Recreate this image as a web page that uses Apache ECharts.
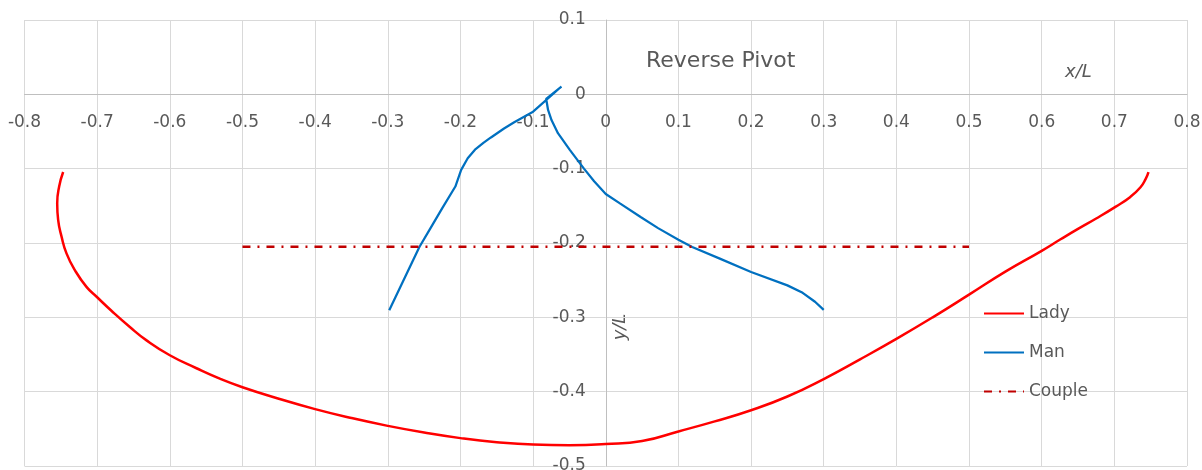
<!DOCTYPE html>
<html>
<head>
<meta charset="utf-8">
<title>Reverse Pivot</title>
<script src="https://cdn.jsdelivr.net/npm/echarts@6/dist/echarts.min.js"></script>
<style>
  html, body { margin: 0; padding: 0; background: #fff; }
  #chart { width: 1202px; height: 470px; }
</style>
</head>
<body>
<div id="chart"></div>
<script>
// Path of the lady (x/L, y/L)
const ladyPath = [
  [-0.7468, -0.1045], [-0.7523, -0.1239], [-0.755, -0.1464], [-0.7537, -0.169],
  [-0.749, -0.1914], [-0.7422, -0.214], [-0.7307, -0.2365], [-0.7147, -0.259],
  [-0.700, -0.273], [-0.680, -0.2915], [-0.655, -0.313], [-0.632, -0.331],
  [-0.600, -0.351], [-0.5633, -0.3685], [-0.5312, -0.3825], [-0.500, -0.394],
  [-0.450, -0.4095], [-0.400, -0.4235], [-0.350, -0.4355], [-0.300, -0.446],
  [-0.250, -0.455], [-0.200, -0.4625], [-0.150, -0.468], [-0.100, -0.4712],
  [-0.050, -0.472], [0.000, -0.4705], [0.050, -0.4665], [0.100, -0.4535],
  [0.150, -0.440], [0.200, -0.425], [0.250, -0.4065], [0.300, -0.383],
  [0.350, -0.3565], [0.400, -0.329], [0.450, -0.300], [0.500, -0.2695],
  [0.550, -0.2385], [0.600, -0.2105], [0.626, -0.195], [0.650, -0.181],
  [0.675, -0.167], [0.702, -0.151], [0.722, -0.138], [0.736, -0.125],
  [0.743, -0.114], [0.747, -0.1045]
];

// Path of the man
const manPath = [
  [0.300, -0.290], [0.288, -0.279], [0.271, -0.267], [0.250, -0.257],
  [0.200, -0.239], [0.157, -0.221], [0.119, -0.2054], [0.100, -0.1955],
  [0.072, -0.180], [0.048, -0.165], [0.020, -0.147], [0.000, -0.134],
  [-0.016, -0.117], [-0.030, -0.100], [-0.0495, -0.0747], [-0.0658, -0.0523],
  [-0.0745, -0.035], [-0.0794, -0.021], [-0.082, -0.006], [-0.061, 0.0105],
  [-0.100, -0.0233], [-0.126, -0.0375], [-0.140, -0.046], [-0.158, -0.058],
  [-0.168, -0.065], [-0.180, -0.0745], [-0.190, -0.086], [-0.199, -0.1016],
  [-0.207, -0.124], [-0.225, -0.153], [-0.243, -0.183], [-0.2565, -0.2054],
  [-0.298, -0.2906]
];

// Path of the couple's centre
const couplePath = [[-0.5, -0.205], [0.5, -0.205]];

const seriesNames = ['Lady', 'Man', 'Couple'];
const xRange = [-0.8, 0.8];
const yRange = [-0.5, 0.1];
const tickStep = 0.1;

const labelColor = '#595959';
const font = 'DejaVu Sans';

// plot box in pixels, axes cross at the origin
const plot = { left: 24.5, right: 15, top: 20, bottom: 4, width: 1202 - 24.5 - 15, height: 470 - 20 - 4 };
const zeroY = plot.top + plot.height * (yRange[1] / (yRange[1] - yRange[0]));
const zeroX = plot.left + plot.width * (-xRange[0] / (xRange[1] - xRange[0]));

const chart = echarts.init(document.getElementById('chart'));

chart.setOption({
  animation: false,
  title: {
    text: 'Reverse Pivot',
    left: 646,
    top: 50,
    padding: 0,
    textStyle: { fontFamily: font, fontSize: 22, fontWeight: 'normal', color: labelColor }
  },
  legend: {
    data: seriesNames,
    orient: 'vertical',
    left: 983,
    top: 305,
    padding: 0,
    itemWidth: 40,
    itemHeight: 14,
    itemGap: 22,
    itemStyle: { opacity: 0 },
    textStyle: { fontFamily: font, fontSize: 17, color: labelColor }
  },
  grid: {
    left: plot.left,
    right: plot.right,
    top: plot.top,
    bottom: plot.bottom,
    containLabel: false,
    outerBoundsMode: 'none'
  },
  xAxis: {
    type: 'value',
    position: 'top',
    offset: -(zeroY - plot.top),
    min: xRange[0],
    max: xRange[1],
    interval: tickStep,
    axisLine: { onZero: false, lineStyle: { color: '#bfbfbf', width: 1 } },
    axisTick: { show: false },
    axisLabel: { inside: true, margin: 20, color: labelColor, fontFamily: font, fontSize: 17 },
    splitLine: { lineStyle: { color: '#d9d9d9', width: 1 } }
  },
  yAxis: {
    type: 'value',
    position: 'left',
    offset: -(zeroX - plot.left),
    min: yRange[0],
    max: yRange[1],
    interval: tickStep,
    axisLine: { show: true, onZero: false, lineStyle: { color: '#bfbfbf', width: 1 } },
    axisTick: { show: false },
    axisLabel: { margin: 20, color: labelColor, fontFamily: font, fontSize: 17 },
    splitLine: { lineStyle: { color: '#d9d9d9', width: 1 } }
  },
  graphic: [
    {
      type: 'text',
      x: 1065,
      y: 72,
      style: {
        text: 'x/L',
        fill: labelColor,
        font: 'italic 18px "DejaVu Sans"',
        verticalAlign: 'middle'
      }
    },
    {
      type: 'text',
      x: 620,
      y: 327,
      rotation: Math.PI / 2,
      style: {
        text: 'y/L',
        fill: labelColor,
        font: 'italic 18px "DejaVu Sans"',
        align: 'center',
        verticalAlign: 'middle'
      }
    }
  ],
  series: [
    {
      name: 'Lady',
      type: 'line',
      data: ladyPath,
      symbol: 'none',
      smooth: 0.5,
      color: '#ff0000',
      lineStyle: { color: '#ff0000', width: 2.5 }
    },
    {
      name: 'Man',
      type: 'line',
      data: manPath,
      symbol: 'none',
      color: '#0070c0',
      lineStyle: { color: '#0070c0', width: 2.25 }
    },
    {
      name: 'Couple',
      type: 'line',
      data: couplePath,
      symbol: 'none',
      color: '#c00000',
      lineStyle: { color: '#c00000', width: 2.5, type: [8, 7, 2, 7] }
    }
  ]
});
</script>
</body>
</html>
